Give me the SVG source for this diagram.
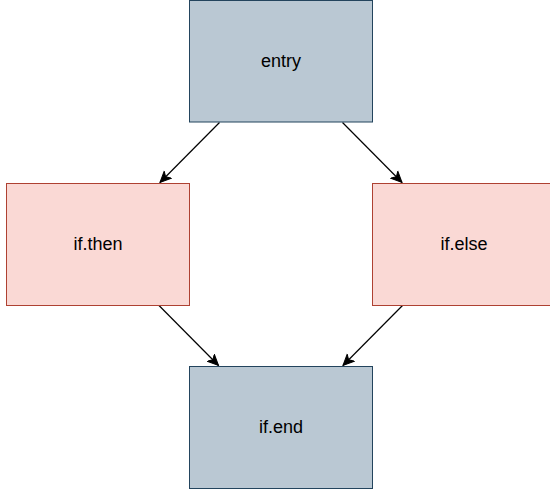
<svg xmlns="http://www.w3.org/2000/svg" width="550" height="490" viewBox="0 0 550 490">
<style>
.blue{fill:#bac8d3;stroke:#23445d;stroke-width:1}
.red{fill:#fad9d5;stroke:#ae4132;stroke-width:1}
.lbl{font-family:"Liberation Sans",Arial,sans-serif;font-size:18px;fill:#000;text-anchor:middle;dominant-baseline:central}
.edge{stroke:#000;stroke-width:1.2;fill:none;marker-end:url(#arr)}
</style>
<defs>
<marker id="arr" viewBox="0 0 12 12" refX="11" refY="6" markerWidth="12" markerHeight="12" markerUnits="userSpaceOnUse" orient="auto">
<path d="M0,1 L11,6 L0,11 L3,6 Z" fill="#000" stroke="#000" stroke-width="1"/>
</marker>
</defs>
<rect width="550" height="490" fill="#fff"/>
<g id="connectors">
<line class="edge" x1="219.5" y1="122.5" x2="160" y2="182.5"/>
<line class="edge" x1="342.5" y1="122.5" x2="402" y2="182.5"/>
<line class="edge" x1="159" y1="305.5" x2="218.5" y2="365.5"/>
<line class="edge" x1="402.5" y1="305.5" x2="343" y2="365.5"/>
</g>
<g id="entry">
<rect class="blue" x="189.5" y="0.5" width="183" height="121.5"/>
<text class="lbl" x="281" y="61">entry</text>
</g>
<g id="if_then">
<rect class="red" x="6.5" y="183.5" width="183" height="122"/>
<text class="lbl" x="98" y="244">if.then</text>
</g>
<g id="if_else">
<rect class="red" x="372.5" y="183.5" width="183" height="122"/>
<text class="lbl" x="464" y="244">if.else</text>
</g>
<g id="if_end">
<rect class="blue" x="189.5" y="366.5" width="183" height="122"/>
<text class="lbl" x="281" y="427">if.end</text>
</g>
</svg>
